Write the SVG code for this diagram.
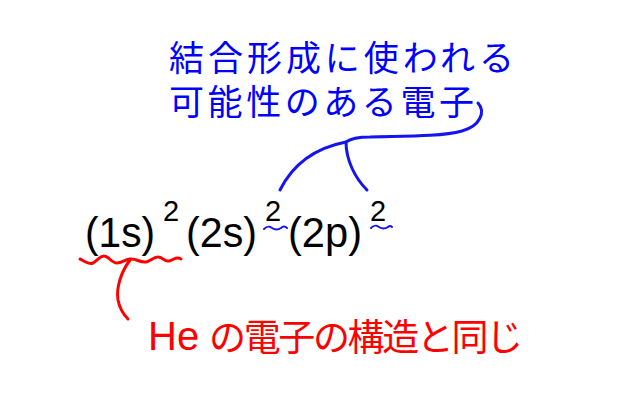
<svg xmlns="http://www.w3.org/2000/svg" width="643" height="409" viewBox="0 0 643 409">
<style>
.blue{font-family:"Noto Sans CJK JP","Liberation Sans",sans-serif;font-size:35px;fill:#0000ff}
.red{font-family:"Noto Sans CJK JP","Liberation Sans",sans-serif;font-size:37px;fill:#ff0000}
.he{font-family:"Liberation Sans","Noto Sans CJK JP",sans-serif;font-size:40px;fill:#ff0000}
.f{font-family:"Liberation Sans",sans-serif;font-size:42px;fill:#000}
.sup{font-family:"Liberation Sans",sans-serif;font-size:29px;fill:#000}
.bl{fill:none;stroke:#1414f0;stroke-width:3;stroke-linecap:round;stroke-linejoin:round}
.rl{fill:none;stroke:#ff0000;stroke-width:3;stroke-linecap:round;stroke-linejoin:round}
.bt{fill:none;stroke:#1414f0;stroke-width:2;stroke-linecap:round}
</style>
<rect width="643" height="409" fill="#fff"/>
<g id="blue-label">
<text class="blue" x="169" y="71" textLength="345" lengthAdjust="spacing">結合形成に使われる</text>
<text class="blue" x="169" y="115" textLength="305" lengthAdjust="spacing">可能性のある電子</text>
</g>
<g id="formula">
<text class="f" x="85" y="247" textLength="70" lengthAdjust="spacingAndGlyphs">(1s)</text>
<text class="sup" x="163" y="221">2</text>
<text class="f" x="186" y="247" textLength="71" lengthAdjust="spacingAndGlyphs">(2s)</text>
<text class="sup" x="265" y="221">2</text>
<text class="f" x="288" y="247" textLength="74" lengthAdjust="spacingAndGlyphs">(2p)</text>
<text class="sup" x="370" y="221">2</text>
</g>
<g id="red-label">
<text class="he" x="148" y="350">He</text>
<text class="red" x="209" y="351" textLength="314" lengthAdjust="spacing">の電子の構造と同じ</text>
</g>
<g id="connectors">
<path class="bl" d="M478,103 C486,112 480,126 462,131 C440,137 400,136 370,137 C355,137 350,139 346,142 C320,147 295,160 280,190"/>
<path class="bl" d="M346,142 C346,160 355,178 367,190"/>
<path class="bt" d="M264,229 C267,226 269,226 272,228 C275,230 278,230 281,228 C283,226 285,226 287,228"/>
<path class="bt" d="M371,228 C374,225 376,225 379,227 C382,229 385,229 388,227 C390,225 391,226 392,227"/>
<path class="rl" d="M80,259 C85,261 88,265 93,263 C97,261 100,256 104,256 C109,256 111,263 117,263 C122,263 124,260 130,259 C136,258 140,263 146,262 C151,261 153,257 158,257 C163,257 164,262 169,261 C174,260 176,256 181,259"/>
<path class="rl" d="M130,260 C121,272 116,288 118,300 C120,310 124,315 128,319"/>
</g>
</svg>
